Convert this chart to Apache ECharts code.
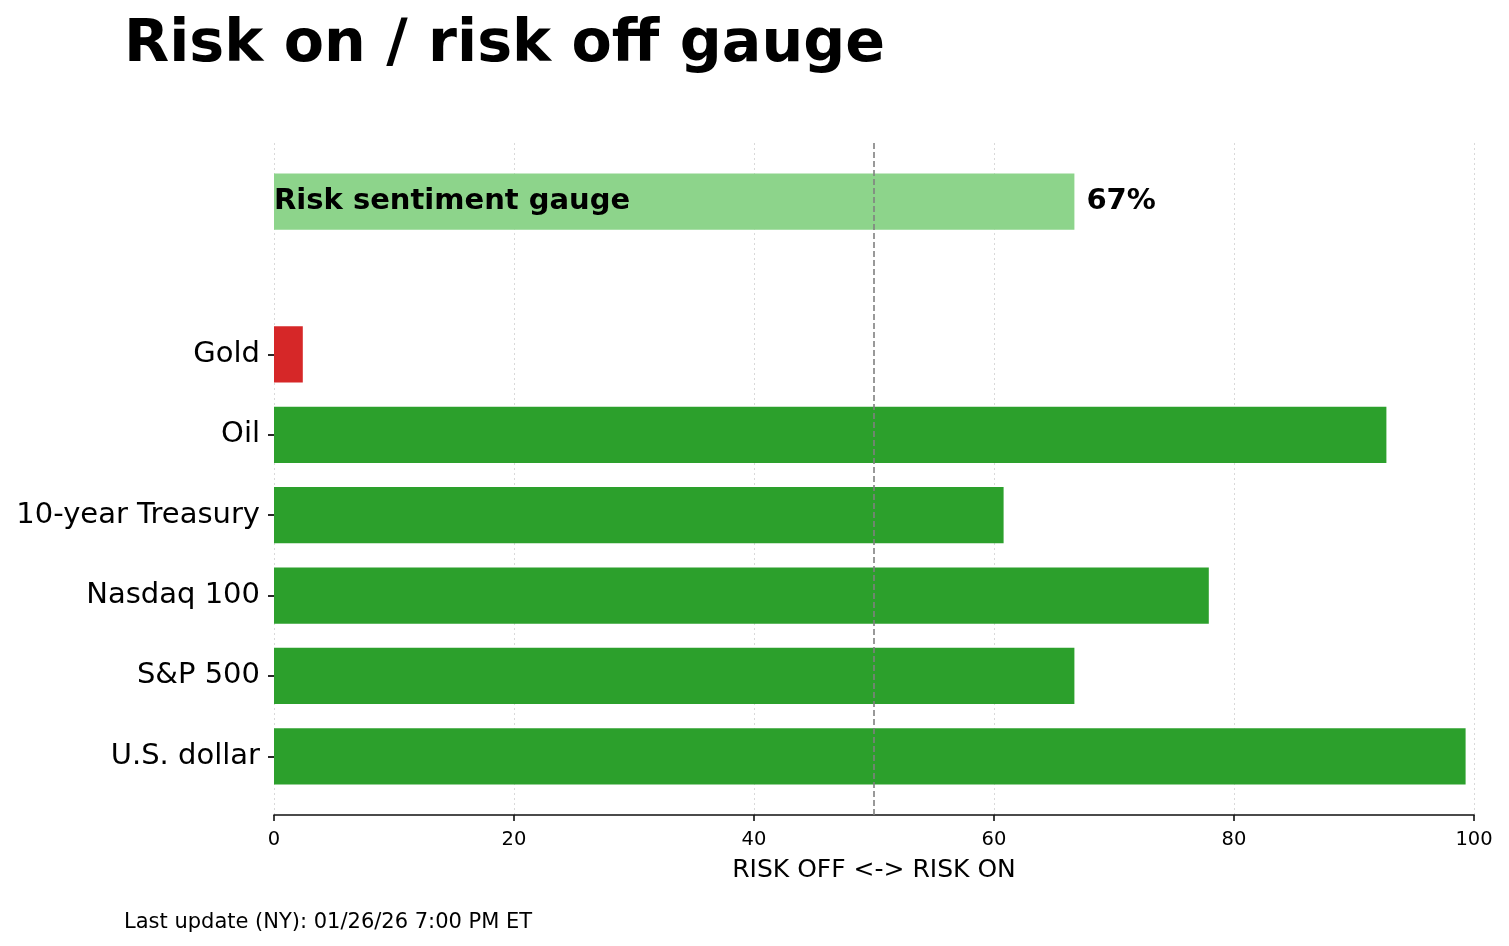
<!DOCTYPE html>
<html>
<head>
<meta charset="utf-8">
<script src="https://cdn.jsdelivr.net/npm/echarts@6/dist/echarts.min.js"></script>
<style>
html,body{margin:0;padding:0;background:#fff;}
#main{width:1509px;height:946px;}
</style>
</head>
<body>
<div id="main"></div>
<script>
// ---- data ----
const categories = ['U.S. dollar', 'S&P 500', 'Nasdaq 100', '10-year Treasury', 'Oil', 'Gold'];
const values = [99.3, 66.7, 77.9, 60.8, 92.7, 2.4];
const gaugeLabel = 'Risk sentiment gauge';
const gaugeValue = 66.7;
const gaugePosition = 6.9;
const xTicks = [0, 20, 40, 60, 80, 100];
const titleText = 'Risk on / risk off gauge';
const xAxisName = 'RISK OFF <-> RISK ON';
const footerText = 'Last update (NY): 01/26/26 7:00 PM ET';
const neutralLevel = 50;

// ---- styling ----
const FONT = 'DejaVu Sans';
const GREEN = '#2ca02c';
const RED = '#d62728';
const LIGHT_GREEN = '#8dd48b';
const BAR_H = 0.7;

const catPositions = categories.map((c, i) => i);
const barData = values.map((v, i) => [v, catPositions[i]]);

const chart = echarts.init(document.getElementById('main'), null, {renderer: 'canvas'});

function barRender(params, api) {
  const v = api.value(0), y = api.value(1);
  const p0 = api.coord([0, y]);
  const p1 = api.coord([v, y]);
  const h = api.size([0, BAR_H])[1];
  return {
    type: 'rect',
    shape: {x: p0[0], y: p0[1] - h / 2, width: p1[0] - p0[0], height: h},
    style: {fill: v >= neutralLevel ? GREEN : RED}
  };
}

function gaugeRender(params, api) {
  const v = api.value(0), y = api.value(1);
  const p0 = api.coord([0, y]);
  const p1 = api.coord([v, y]);
  const h = api.size([0, BAR_H])[1];
  return {
    type: 'group',
    children: [
      {type: 'rect', shape: {x: p0[0], y: p0[1] - h / 2, width: p1[0] - p0[0], height: h}, style: {fill: LIGHT_GREEN}},
      {type: 'text', x: p0[0], y: p0[1], style: {text: gaugeLabel, fill: '#000', font: 'bold 29px "' + FONT + '"', textAlign: 'left', textVerticalAlign: 'middle'}},
      {type: 'text', x: p1[0] + 12, y: p0[1], style: {text: Math.round(v) + '%', fill: '#000', font: 'bold 29px "' + FONT + '"', textAlign: 'left', textVerticalAlign: 'middle'}}
    ]
  };
}

const option = {
  backgroundColor: '#fff',
  animation: false,
  textStyle: {fontFamily: FONT},
  title: {
    text: titleText,
    left: 119,
    top: 11,
    textStyle: {fontFamily: FONT, fontSize: 58.7, fontWeight: 'bold', color: '#000'}
  },
  graphic: [{
    type: 'text',
    left: 124,
    top: 912,
    style: {text: footerText, font: '21px "' + FONT + '"', fill: '#000'}
  }],
  grid: {left: 274, right: 35, top: 143, bottom: 131, containLabel: false},
  xAxis: {
    type: 'value',
    min: 0, max: 100, interval: 20,
    name: xAxisName,
    nameLocation: 'middle',
    nameGap: 43,
    nameTextStyle: {fontFamily: FONT, fontSize: 25, color: '#000'},
    axisLine: {show: true, onZero: false, lineStyle: {color: '#111', width: 1.6}},
    axisTick: {show: true, length: 6, lineStyle: {color: '#111', width: 1.6}},
    axisLabel: {fontFamily: FONT, fontSize: 19.5, color: '#000', margin: 15},
    splitLine: {show: true, lineStyle: {color: '#d9d9d9', type: [2, 3], width: 1}}
  },
  yAxis: {
    type: 'value',
    min: -0.73, max: 7.63,
    axisLine: {show: false, onZero: false},
    axisTick: {show: true, inside: false, length: 6, customValues: catPositions, lineStyle: {color: '#111', width: 1.8}},
    axisLabel: {
      show: true,
      customValues: catPositions,
      fontFamily: FONT, fontSize: 29, color: '#000', margin: 14,
      padding: [4, 0, 0, 0],
      formatter: function (val) {
        const i = catPositions.indexOf(Math.round(val));
        return i >= 0 ? categories[i] : '';
      }
    },
    splitLine: {show: false}
  },
  series: [
    {
      type: 'custom',
      renderItem: barRender,
      data: barData,
      encode: {x: 0, y: 1},
      z: 2,
      markLine: {
        silent: true,
        symbol: ['none', 'none'],
        label: {show: false},
        lineStyle: {color: '#808080', type: [6, 3], width: 1.6},
        data: [{xAxis: neutralLevel}]
      }
    },
    {
      type: 'custom',
      renderItem: gaugeRender,
      data: [[gaugeValue, gaugePosition]],
      encode: {x: 0, y: 1},
      z: 1
    }
  ]
};
chart.setOption(option);
</script>
</body>
</html>
